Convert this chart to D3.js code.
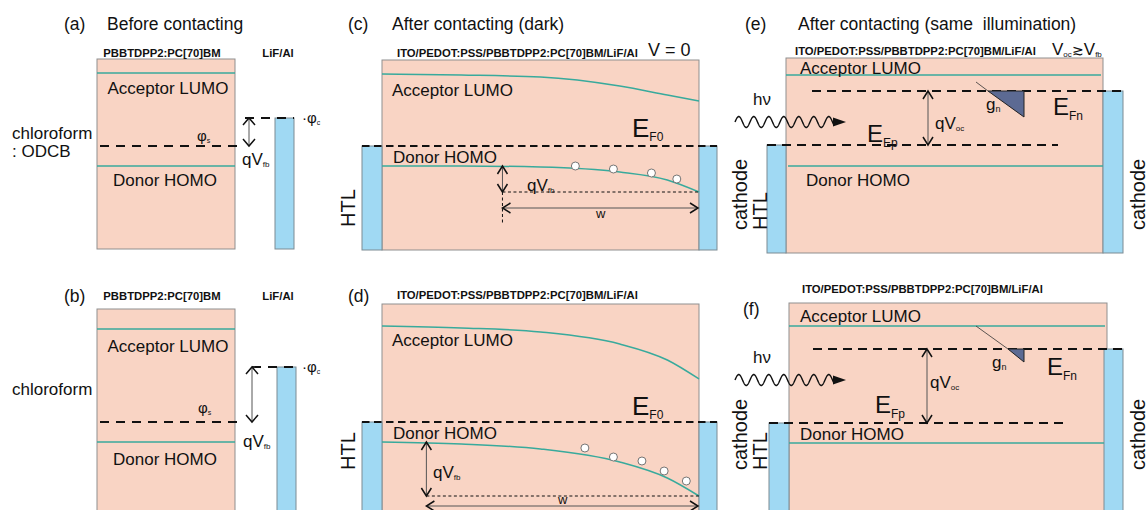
<!DOCTYPE html>
<html><head><meta charset="utf-8">
<script src="https://cdn.jsdelivr.net/npm/d3@7"></script>
<style>
html,body{margin:0;padding:0;background:#fff}
svg{display:block;font-family:"Liberation Sans",Arial,Helvetica,sans-serif}
</style>
</head><body>
<svg id="chart" width="1146" height="510"></svg>
<script>
// ================= DATA =================
const panelLabels = ["(a)", "(b)", "(c)", "(d)", "(e)", "(f)"];
const panelTitles = ["Before contacting", "", "After contacting (dark)", "", "After contacting (same\u00a0 illumination)", ""];
const activeLabel = "PBBTDPP2:PC[70]BM";
const deviceLabel = "ITO/PEDOT:PSS/PBBTDPP2:PC[70]BM/LiF/Al";
const cathodeLabel = "LiF/Al";
const solventA = ["chloroform", ": ODCB"];
const solventB = ["chloroform"];

// Energies in arbitrary units, measured upward from the bottom of each row
// (a),(b): separated materials
const lumoAB = [177, 181];
const homoAB = [84, 68];
const phiS = [104, 88];
const phiC = [132, 143];
// (c),(d): contacted, dark, band bending toward the cathode
const ef0CD = [104, 88];
const bandX = [0, 0.25, 0.5, 0.75, 0.9, 1];
const lumoC = [176, 175, 173, 164, 155, 149];
const homoC = [84, 84, 83, 78, 70, 58];
const lumoD = [184, 182, 178, 166, 150, 131];
const homoD = [68, 66, 61, 48, 32, 14];
const holeXC = [0.61, 0.73, 0.85, 0.93];
const holeEC = [84, 81, 77, 71];
const holeXD = [0.64, 0.73, 0.82, 0.89, 0.96];
const holeED = [62, 53, 49, 39, 29];
const wStartCD = [0.38, 0.14];
// (e),(f): illuminated, open circuit, flat bands
const lumoEF = [175, 184];
const homoEF = [84, 67];
const efnEF = [159, 161];
const efpEF = [105, 87];

// ================= LAYOUT / STYLE =================
const COL = {fill:"#f9d4c4", boxStroke:"#8f8f8f", blue:"#a0d9f3", blueStroke:"#7d8b93",
             teal:"#38aa9c", tri:"#5c6a93", ink:"#111"};
const svg = d3.select("#chart");
svg.append("rect").attr("width",1146).attr("height",510).attr("fill","#fff");

const yRow = [
  d3.scaleLinear().domain([0, 200]).range([250, 50]),
  d3.scaleLinear().domain([0, 200]).range([510, 310])
];
function xs(x0, x1){ return d3.scaleLinear().domain([0,1]).range([x0,x1]); }

function rect(x0,x1,yTop,yBot,fill,stroke){
  svg.append("rect").attr("x",x0).attr("y",yTop).attr("width",x1-x0).attr("height",yBot-yTop)
    .attr("fill",fill).attr("stroke",stroke).attr("stroke-width",1);
}
function hline(x0,x1,y,color,w,dash){
  const l = svg.append("line").attr("x1",x0).attr("x2",x1).attr("y1",y).attr("y2",y)
    .attr("stroke",color).attr("stroke-width",w);
  if(dash) l.attr("stroke-dasharray",dash);
  return l;
}
function vline(x,y0,y1,color,w,dash){
  const l = svg.append("line").attr("x1",x).attr("x2",x).attr("y1",y0).attr("y2",y1)
    .attr("stroke",color).attr("stroke-width",w);
  if(dash) l.attr("stroke-dasharray",dash);
}
function chev(d){
  svg.append("path").attr("d",d).attr("fill","none").attr("stroke",COL.ink)
    .attr("stroke-width",1.5).attr("stroke-linejoin","miter");
}
function vArrow(x,y0,y1,hw,hh){
  vline(x,y0,y1,"#555",1);
  chev(`M${x-hw},${y0+hh} L${x},${y0} L${x+hw},${y0+hh}`);
  chev(`M${x-hw},${y1-hh} L${x},${y1} L${x+hw},${y1-hh}`);
}
function hArrow(x0,x1,y,hw,hh){
  hline(x0,x1,y,"#555",1);
  chev(`M${x0+hw},${y-hh} L${x0},${y} L${x0+hw},${y+hh}`);
  chev(`M${x1-hw},${y-hh} L${x1},${y} L${x1-hw},${y+hh}`);
}
function text(x,y,s,size,opt={}){
  const t = svg.append("text").attr("x",x).attr("y",y).attr("font-size",size)
    .attr("fill",opt.fill||COL.ink).attr("text-anchor",opt.anchor||"start").text(s);
  if(opt.bold) t.attr("font-weight","bold");
  if(opt.pre) t.style("white-space","pre");
  return t;
}
function subText(x,y,main,sub,size,subSize,dy,anchor){
  const t = svg.append("text").attr("x",x).attr("y",y).attr("font-size",size)
    .attr("fill",COL.ink).attr("text-anchor",anchor||"start");
  t.append("tspan").text(main);
  t.append("tspan").attr("font-size",subSize).attr("dy",dy).text(sub);
  return t;
}
function rot(x,y,s,size){
  svg.append("text").attr("transform",`translate(${x},${y}) rotate(-90)`)
    .attr("font-size",size).attr("fill",COL.ink).text(s);
}
function wave(x0,x1,y){
  const pts = d3.range(x0, x1+0.01, 0.5).map(x=>[x, y - 5.5*Math.sin((x-x0)/15*2*Math.PI)]);
  svg.append("path").attr("d",d3.line()(pts)).attr("fill","none").attr("stroke",COL.ink).attr("stroke-width",1.4);
  svg.append("path").attr("d",`M${x1-1},${y-4.5} L${x1+12},${y} L${x1-1},${y+4.5} Z`).attr("fill",COL.ink);
}

// ---------- titles ----------
const labelPos = [[64,30],[64,302],[348,30],[348,302],[745,30],[743,315]];
const titlePos = [[107,30],null,[392,30],null,[798,30],null];
panelLabels.forEach((l,i)=>text(labelPos[i][0],labelPos[i][1],l,17.5));
panelTitles.forEach((t,i)=>{ if(t) text(titlePos[i][0],titlePos[i][1],t,17.5,{pre:true}); });

// ================= (a),(b) =================
const abBox = [{x0:97,x1:235,top:191,bot:1, cx0:275,cx1:294, dashC:[245,294], arX:249, lblY:57},
               {x0:97,x1:235,top:201,bot:-5,cx0:277,cx1:296, dashC:[252,296], arX:252, lblY:300}];
abBox.forEach((b,i)=>{
  const y = yRow[i];
  rect(b.x0,b.x1,y(b.top),y(b.bot),COL.fill,COL.boxStroke);
  rect(b.cx0,b.cx1,y(phiC[i]),y(b.bot),COL.blue,COL.blueStroke);
  hline(b.x0,b.x1,y(lumoAB[i]),COL.teal,1.5);
  hline(b.x0,b.x1,y(homoAB[i]),COL.teal,1.5);
  hline(100,242,y(phiS[i]),COL.ink,1.8,"9,7");
  hline(b.dashC[0],b.dashC[1],y(phiC[i]),COL.ink,1.8,"9,7");
  vArrow(b.arX,y(phiC[i]),y(phiS[i]),6,7);
  text(162,b.lblY,activeLabel,11.3,{bold:true,anchor:"middle"});
  text(278,b.lblY,cathodeLabel,11.3,{bold:true,anchor:"middle"});
  text(168,y(lumoAB[i])+(i?23:21),"Acceptor LUMO",17,{anchor:"middle"});
  text(165,y(homoAB[i])+(i?23:20),"Donor HOMO",17,{anchor:"middle"});
  subText(197+i,y(phiS[i])-(i?9:5),"\u03c6","s",15,7,2);
  subText(302,y(phiC[i])+5,"\u00b7\u03c6","c",15,7,2);
  subText(242+i,y(phiS[i])+19+(i?6:0),"qV","fb",17,8,2);
});
text(12,139,solventA[0],17); text(12,157,solventA[1],17);
text(12,395,solventB[0],17);

// ================= (c),(d) =================
const cdCfg = [
  {lumo:lumoC, homo:homoC, hx:holeXC, he:holeEC, top:190, bot:0, lblY:57, accY:96, donY:163,
   efY:137, htlY:227, qx:527, qy:191, wy:208, wlbl:218, vdash:225},
  {lumo:lumoD, homo:homoD, hx:holeXD, he:holeED, top:206, bot:-5, lblY:299, accY:346, donY:439,
   efY:415, htlY:470, qx:433, qy:478, wy:506, wlbl:504, vdash:null}
];
cdCfg.forEach((c,i)=>{
  const y = yRow[i], x = xs(382,699);
  rect(382,699,y(c.top),y(c.bot),COL.fill,COL.boxStroke);
  rect(362,382,y(ef0CD[i]),y(c.bot),COL.blue,COL.blueStroke);
  rect(699,717,y(ef0CD[i]),y(c.bot),COL.blue,COL.blueStroke);
  const line = d3.line().x((d,k)=>x(bandX[k])).y(d=>y(d)).curve(d3.curveMonotoneX);
  svg.append("path").attr("d",line(c.lumo)).attr("fill","none").attr("stroke",COL.teal).attr("stroke-width",1.5);
  svg.append("path").attr("d",line(c.homo)).attr("fill","none").attr("stroke",COL.teal).attr("stroke-width",1.5);
  hline(362,717,y(ef0CD[i]),COL.ink,1.8,"7.5,4.5");
  c.hx.forEach((hx,k)=>svg.append("circle").attr("cx",x(hx)).attr("cy",y(c.he[k])).attr("r",4)
     .attr("fill","#fff").attr("stroke","#666").attr("stroke-width",0.9));
  const xw = x(wStartCD[i]);
  const yEnd = y(c.homo[c.homo.length-1]);
  hline(xw,699,yEnd,COL.ink,1,"3,2.5");
  vArrow(xw,y(c.homo[0]),yEnd,5,8);
  if(c.vdash) vline(xw,yEnd,c.vdash,COL.ink,1,"3,2.5");
  hArrow(xw,698,c.wy,8,5);
  text((xw+699)/2,c.wlbl,"w",13,{anchor:"middle"});
  subText(c.qx,c.qy,"qV","fb",17,8,2);
  text(397,c.lblY,deviceLabel,11.3,{bold:true});
  text(392,c.accY,"Acceptor LUMO",17);
  text(393,c.donY,"Donor HOMO",17);
  subText(632,c.efY,"E","F0",26,12,4);
  rot(355,c.htlY,"HTL",20);
});
text(648,56,"V = 0",18);

// ================= (e),(f) =================
const efCfg = [
  {x0:786,x1:1103,top:192,bot:-3,lc:[767,786],rc:[1103,1123],efn:[812,1123],efp:[767,1058],
   lumoX:[786,1101],homoX:[788,1103],accY:74,donY:186,accX:800,donX:806,lblX:795,lblY:55,
   tri:[988,1024,26],gline:[976,82],gx:986,gy:110,efnX:1053,efnY:115,efpX:867,efpY:142,efpSub:"Ep",
   qx:928,qtx:935,qty:129,hvY:105,wvY:122,rotY:230},
  {x0:789,x1:1107,top:207,bot:-5,lc:[769,789],rc:[1104,1123],efn:[813,1123],efp:[769,1063],
   lumoX:[789,1105],homoX:[789,1104],accY:322,donY:440,accX:800,donX:800,lblX:802,lblY:293,
   tri:[1008,1024,13],gline:[976,326],gx:992,gy:368,efnX:1047,efnY:375,efpX:875,efpY:413,efpSub:"Fp",
   qx:927,qtx:930,qty:388,hvY:363,wvY:380,rotY:470}
];
efCfg.forEach((c,i)=>{
  const y = yRow[i];
  rect(c.x0,c.x1,y(c.top),y(c.bot),COL.fill,COL.boxStroke);
  rect(c.lc[0],c.lc[1],y(efpEF[i]),y(c.bot),COL.blue,COL.blueStroke);
  rect(c.rc[0],c.rc[1],y(efnEF[i]),y(c.bot),COL.blue,COL.blueStroke);
  hline(c.lumoX[0],c.lumoX[1],y(lumoEF[i]),COL.teal,1.5);
  hline(c.homoX[0],c.homoX[1],y(homoEF[i]),COL.teal,1.5);
  hline(c.efn[0],c.efn[1],y(efnEF[i]),COL.ink,1.8,"9,6");
  hline(c.efp[0],c.efp[1],y(efpEF[i]),COL.ink,1.8,"9,6");
  const yn = y(efnEF[i]);
  svg.append("line").attr("x1",c.gline[0]).attr("y1",c.gline[1]).attr("x2",c.tri[0]).attr("y2",yn)
    .attr("stroke","#333").attr("stroke-width",0.8);
  svg.append("path").attr("d",`M${c.tri[0]},${yn} L${c.tri[1]},${yn} L${c.tri[1]},${yn+c.tri[2]} Z`)
    .attr("fill",COL.tri).attr("stroke","#222").attr("stroke-width",1);
  vArrow(c.qx,yn,y(efpEF[i]),5,8);
  subText(c.qtx,c.qty,"qV","oc",17,8,2);
  subText(c.gx,c.gy,"g","n",17,9,2);
  subText(c.efnX,c.efnY,"E","Fn",24,12,5);
  subText(c.efpX,c.efpY,"E",c.efpSub,24,12,5);
  text(c.accX,c.accY,"Acceptor LUMO",17);
  text(c.donX,c.donY,"Donor HOMO",17);
  text(c.lblX,c.lblY,deviceLabel,11.3,{bold:true});
  text(753,c.hvY,"h\u03bd",17);
  wave(735,834,c.wvY);
  rot(747,c.rotY,"cathode",20);
  rot(767,c.rotY,"HTL",20);
  rot(1145,c.rotY,"cathode",20);
});
// V_oc ≳ V_fb
{
  const t = svg.append("text").attr("x",1052).attr("y",55).attr("font-size",17).attr("fill",COL.ink);
  t.append("tspan").text("V");
  t.append("tspan").attr("font-size",8).attr("dy",2).text("oc");
  t.append("tspan").attr("font-size",14).attr("dy",-2).text("\u2273");
  t.append("tspan").text("V");
  t.append("tspan").attr("font-size",8).attr("dy",2).text("fb");
}
</script>
</body></html>
